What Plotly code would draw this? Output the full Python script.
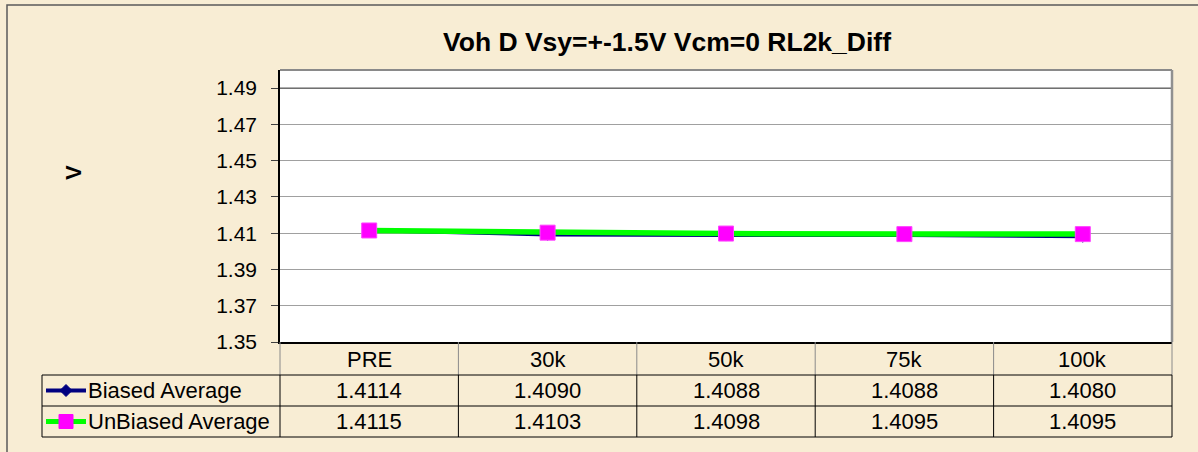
import plotly.graph_objects as go

W, H = 1198, 452

categories = ["PRE", "30k", "50k", "75k", "100k"]
biased = [1.4114, 1.4090, 1.4088, 1.4088, 1.4080]
unbiased = [1.4115, 1.4103, 1.4098, 1.4095, 1.4095]
series_names = ["Biased Average", "UnBiased Average"]
y_ticks = [1.35, 1.37, 1.39, 1.41, 1.43, 1.45, 1.47, 1.49]
title_text = "Voh D Vsy=+-1.5V Vcm=0 RL2k_Diff"

# plot area in pixels
PL, PR, PT, PB = 280, 1172, 70, 342
ROW_LINES = [375, 406, 437]
TABLE_LEFT = 42


def px(x):
    return x / W


def py(y):
    return 1 - y / H


FONT = "Liberation Sans, Arial, sans-serif"
BG = "#F8EDD4"
TXT = 22

fig = go.Figure()
fig.add_trace(go.Scatter(
    x=list(range(len(categories))), y=biased, mode="lines+markers",
    name=series_names[0],
    line=dict(color="#000080", width=3),
    marker=dict(symbol="diamond", size=9, color="#000080"),
    showlegend=False,
))
fig.add_trace(go.Scatter(
    x=list(range(len(categories))), y=unbiased, mode="lines+markers",
    name=series_names[1],
    line=dict(color="#00FF00", width=5.5),
    marker=dict(symbol="square", size=15, color="#FF00FF",
                line=dict(color="#FF44FF", width=1)),
    showlegend=False,
))

shapes = []
annotations = []

# outer frame
shapes.append(dict(type="rect", xref="paper", yref="paper",
                   x0=px(7), x1=px(1215), y0=py(470), y1=py(5),
                   line=dict(color="#5A5A5A", width=1.5), layer="below"))
# darker top gridline
shapes.append(dict(type="line", xref="paper", yref="y",
                   x0=px(PL), x1=px(PR), y0=y_ticks[-1], y1=y_ticks[-1],
                   line=dict(color="#606060", width=1.2), layer="above"))
# plot area top/right border (gray)
shapes.append(dict(type="line", xref="paper", yref="paper",
                   x0=px(PL), x1=px(PR), y0=py(PT), y1=py(PT),
                   line=dict(color="#8A8A8A", width=2)))
shapes.append(dict(type="line", xref="paper", yref="paper",
                   x0=px(PR), x1=px(PR), y0=py(PT), y1=py(PB),
                   line=dict(color="#909090", width=2.5)))

# table column boundaries
ncol = len(categories)
colw = (PR - PL) / ncol
col_x = [PL + i * colw for i in range(ncol + 1)]
for cx in col_x:
    shapes.append(dict(type="line", xref="paper", yref="paper",
                       x0=px(cx), x1=px(cx), y0=py(PB), y1=py(ROW_LINES[0]),
                       line=dict(color="#8A8A8A", width=1)))
    shapes.append(dict(type="line", xref="paper", yref="paper",
                       x0=px(cx), x1=px(cx), y0=py(ROW_LINES[0]), y1=py(ROW_LINES[-1]),
                       line=dict(color="#000000", width=1)))
# legend column verticals
shapes.append(dict(type="line", xref="paper", yref="paper",
                   x0=px(TABLE_LEFT), x1=px(TABLE_LEFT), y0=py(ROW_LINES[0]), y1=py(ROW_LINES[-1]),
                   line=dict(color="#000000", width=1)))
for ry in ROW_LINES:
    shapes.append(dict(type="line", xref="paper", yref="paper",
                       x0=px(TABLE_LEFT), x1=px(PR), y0=py(ry), y1=py(ry),
                       line=dict(color="#000000", width=1)))

# header labels
hdr_y = (PB + ROW_LINES[0]) / 2 + 1
for i, c in enumerate(categories):
    annotations.append(dict(x=px(col_x[i] + colw / 2), y=py(hdr_y), xref="paper", yref="paper",
                            text=c, showarrow=False, xanchor="center", yanchor="middle",
                            font=dict(family=FONT, size=TXT, color="#000000")))

rows = [biased, unbiased]
for r, vals in enumerate(rows):
    cy = (ROW_LINES[r] + ROW_LINES[r + 1]) / 2
    for i, v in enumerate(vals):
        annotations.append(dict(x=px(col_x[i] + colw / 2), y=py(cy), xref="paper", yref="paper",
                                text=f"{v:.4f}", showarrow=False, xanchor="center", yanchor="middle",
                                font=dict(family=FONT, size=TXT, color="#000000")))
    annotations.append(dict(x=px(86), y=py(cy), xref="paper", yref="paper",
                            text=series_names[r], showarrow=False, xanchor="left", yanchor="middle",
                            font=dict(family=FONT, size=TXT, color="#000000")))

# legend swatches
cy0 = (ROW_LINES[0] + ROW_LINES[1]) / 2
cy1 = (ROW_LINES[1] + ROW_LINES[2]) / 2
shapes.append(dict(type="line", xref="paper", yref="paper",
                   x0=px(46), x1=px(86), y0=py(cy0), y1=py(cy0),
                   line=dict(color="#000080", width=4)))
d = 6
shapes.append(dict(type="path", xref="paper", yref="paper",
                   path=f"M {px(66)} {py(cy0 - d)} L {px(66 + d)} {py(cy0)} L {px(66)} {py(cy0 + d)} L {px(66 - d)} {py(cy0)} Z",
                   fillcolor="#000080", line=dict(color="#000080", width=1)))
shapes.append(dict(type="line", xref="paper", yref="paper",
                   x0=px(46), x1=px(86), y0=py(cy1), y1=py(cy1),
                   line=dict(color="#00FF00", width=5)))
s = 7
shapes.append(dict(type="rect", xref="paper", yref="paper",
                   x0=px(66 - s), x1=px(66 + s), y0=py(cy1 + s), y1=py(cy1 - s),
                   fillcolor="#FF00FF", line=dict(color="#FF00FF", width=1)))

# title
annotations.append(dict(x=px(667), y=py(42), xref="paper", yref="paper",
                        text=f"<b>{title_text}</b>", showarrow=False,
                        xanchor="center", yanchor="middle",
                        font=dict(family=FONT, size=26.5, color="#000000")))
# y axis title
annotations.append(dict(x=px(73), y=py(173), xref="paper", yref="paper",
                        text="<b>V</b>", showarrow=False, textangle=-90,
                        xanchor="center", yanchor="middle",
                        font=dict(family=FONT, size=22, color="#000000")))

fig.update_layout(
    width=W, height=H, autosize=False,
    margin=dict(l=0, r=0, t=0, b=0, pad=0, autoexpand=False),
    paper_bgcolor=BG, plot_bgcolor="#FFFFFF",
    showlegend=False,
    shapes=shapes, annotations=annotations,
    xaxis=dict(domain=[px(PL), px(PR)], range=[-0.5, ncol - 0.5],
               showticklabels=False, ticks="", showgrid=False, zeroline=False,
               automargin=False,
               showline=True, linecolor="#000000", linewidth=1.5, mirror=False),
    yaxis=dict(domain=[py(PB), py(PT)], range=[1.35, 1.50],
               tickvals=y_ticks, ticktext=[f"{t:.2f}" for t in y_ticks],
               ticks="outside", ticklen=7, tickcolor="#404040", tickwidth=1,
               ticklabelstandoff=10, automargin=False,
               tickfont=dict(family=FONT, size=21, color="#000000"),
               showgrid=True, gridcolor="#A0A0A0", gridwidth=1, zeroline=False,
               showline=True, linecolor="#000000", linewidth=1.5, mirror=False),
)

fig.write_html(
    "out.html",
    config={"displayModeBar": False},
    post_script="document.body.style.margin='0';document.body.style.background='" + BG + "';",
)
